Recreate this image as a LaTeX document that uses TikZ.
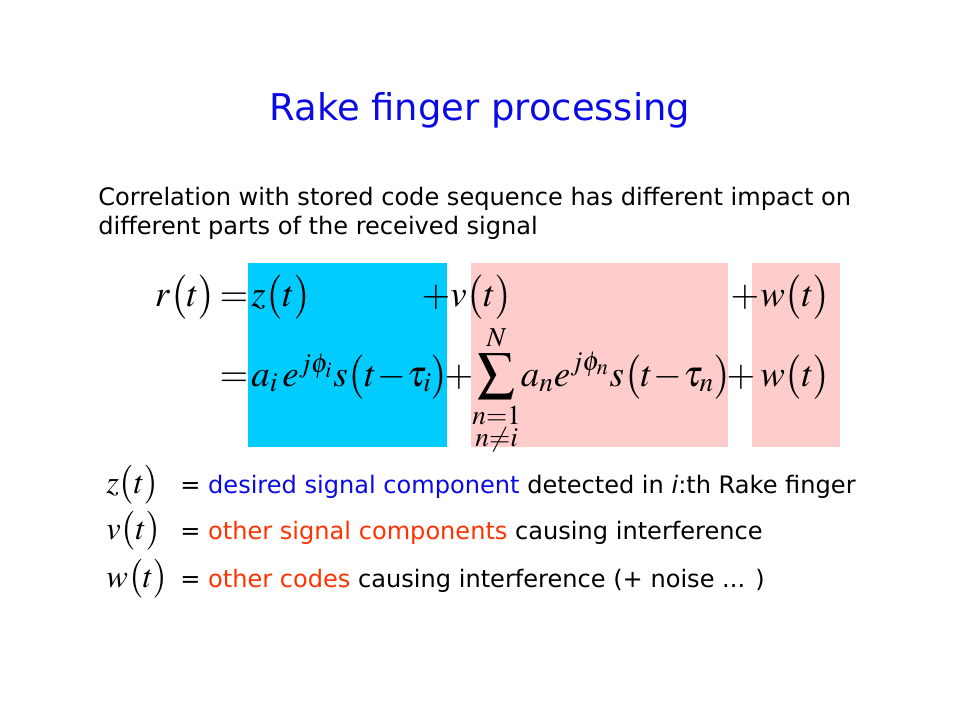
\documentclass[tikz,border=0pt]{standalone}
\usepackage{amsmath}
\usepackage{mathptmx}
\usepackage[no-math]{fontspec}
\setmainfont{DejaVu Sans}
\usetikzlibrary{positioning}
\definecolor{titleblue}{RGB}{10,10,230}
\definecolor{hotred}{RGB}{255,51,0}
\definecolor{zbox}{RGB}{0,204,255}
\definecolor{vbox}{RGB}{255,204,204}
\newcommand{\tminus}{\mkern-2mu-\mkern-2mu}

\begin{document}
\begin{tikzpicture}[x=0.02cm,y=-0.02cm,
    txt/.style={inner sep=0pt,anchor=base west,font=\fontsize{13.7}{16}\selectfont},
    eqn/.style={inner sep=0pt,anchor=base west,font=\fontsize{21}{25}\selectfont},
    op/.style={inner sep=0pt,anchor=base,font=\fontsize{21}{25}\selectfont},
    key/.style={inner sep=0pt,anchor=base west,font=\fontsize{18.5}{22}\selectfont}]

        \useasboundingbox[fill=white] (0,0) rectangle (960,720);

        % coloured parts of the signal
        \fill[zbox] (248,263) rectangle (447,447);
        \fill[vbox] (471,263) rectangle (728,447);
        \fill[vbox] (752,263) rectangle (840,447);

        \node[inner sep=0pt,text=titleblue,font=\fontsize{21}{25}\selectfont]
              (title) at (480,110) {Rake finger processing};
        \node[txt] (par1) at (98,205)
              {Correlation with stored code sequence has different impact on};
        \node[txt] (par2) at (98,234)
              {different parts of the received signal};

        % first row
        \node[eqn,anchor=base east] (rt) at (216,306) {$r\bigl(t\bigr)$};
        \node[op]  (eq1) at (234,306) {$=$};
        \node[eqn] (zt)  at (251,306) {$z\bigl(t\bigr)$};
        \node[op]  (pv)  at (436,306) {$+$};
        \node[eqn] (vt)  at (450,306) {$v\bigl(t\bigr)$};
        \node[op]  (pw)  at (745,306) {$+$};
        \node[eqn] (wt)  at (760,306) {$w\bigl(t\bigr)$};

        % second row
        \node[op]  (eq2) at (234,386) {$=$};
        \node[eqn] (zi)  at (251,386)
              {$a_i\,e^{j\phi_i}s\bigl(t\tminus\tau_i\bigr)$};
        \node[op]  (pn)  at (459,386) {$+$};
        \node[eqn] (vn)  at (472,386)
              {$\displaystyle\sum_{\substack{n=1\\n\neq i}}^{N}\!a_n e^{j\phi_n}s\bigl(t\tminus\tau_n\bigr)$};
        \node[op]  (pw2) at (741,386) {$+$};
        \node[eqn] (wn)  at (760,386) {$w\bigl(t\bigr)$};

        % legend
        \node[key] (kz) at (106,493) {$z\bigl(t\bigr)$};
        \node[key] (kv) at (106,539) {$v\bigl(t\bigr)$};
        \node[key] (kw) at (106,587) {$w\bigl(t\bigr)$};

        \node[txt] (lz) at (180,493)
              {= \textcolor{titleblue}{desired signal component} detected in \textit{i}:th Rake finger};
        \node[txt] (lv) at (180,539)
              {= \textcolor{hotred}{other signal components} causing interference};
        \node[txt] (lw) at (180,587)
              {= \textcolor{hotred}{other codes} causing interference (+ noise ... )};
      \end{tikzpicture}
\end{document}
